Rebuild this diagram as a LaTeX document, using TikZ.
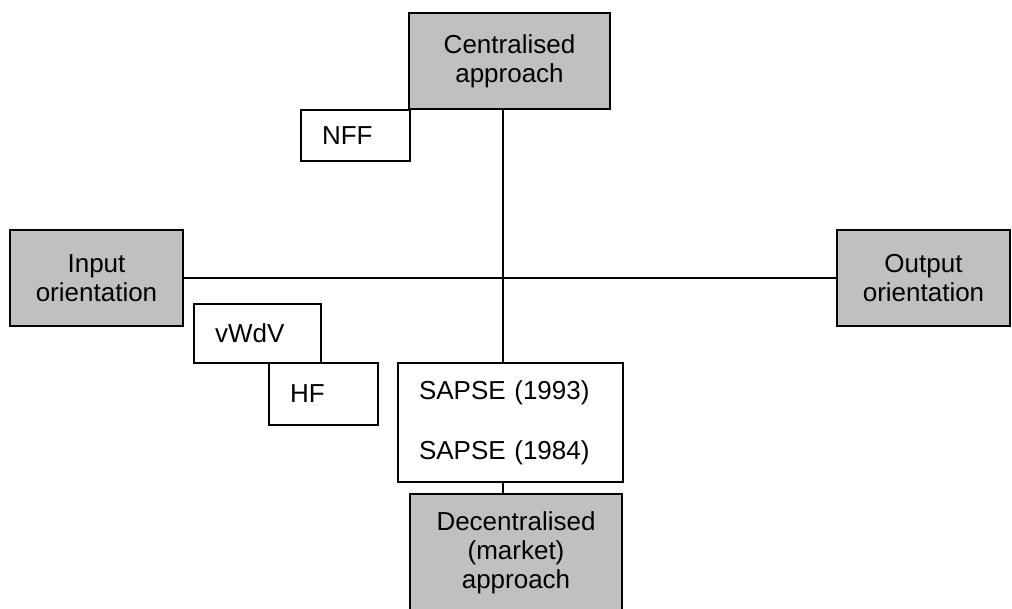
\documentclass[tikz,border=0pt]{standalone}
\usepackage{fontspec}
\setmainfont{Liberation Sans}
\definecolor{polegray}{HTML}{C0C0C0}
\tikzset{
  pole/.style={draw,line width=1.3pt,fill=polegray,inner sep=0pt,align=center,
    font=\fontsize{26}{29}\selectfont},
  study/.style={draw,line width=1.3pt,fill=white,inner xsep=21pt,inner ysep=0pt,align=left,
    font=\fontsize{26}{29}\selectfont},
}
\begin{document}
\begin{tikzpicture}[x=1pt,y=-1pt]
  \useasboundingbox (0,0) rectangle (1012,608);

  %% the four poles
  \node (central) at (509.5,61) [pole,minimum width=201pt,minimum height=96pt] {Centralised\\approach};
  \node (input) at (96.5,278) [pole,minimum width=173pt,minimum height=96pt] {Input\\orientation};
  \node (output) at (923.5,278) [pole,minimum width=173pt,minimum height=96pt] {Output\\orientation};
  \node (decentral) at (516,553) [pole,minimum width=212pt,minimum height=118pt] {Decentralised\\(market)\\approach};

  %% the studies
  \node (nff) at (355.5,135.5) [study,text width=67pt,minimum height=51pt] {NFF};
  \node (vwdv) at (257.5,333.5) [study,text width=85pt,minimum height=59pt] {vWdV};
  \node (hf) at (323.5,394) [study,text width=67pt,minimum height=62pt] {HF};
  \node (sapse) at (510.5,422.5) [study,text width=183pt,minimum height=119pt] {SAPSE (1993)\\[31pt]SAPSE (1984)};

  %% axes
  \coordinate (hub) at (503,278);
  \draw[line width=1.2pt] (input.east) -- (output.west);
  \draw[line width=1.2pt] (central.south -| hub) -- (sapse.north -| hub);
  \draw[line width=1.2pt] (sapse.south -| hub) -- (decentral.north -| hub);
\end{tikzpicture}
\end{document}
